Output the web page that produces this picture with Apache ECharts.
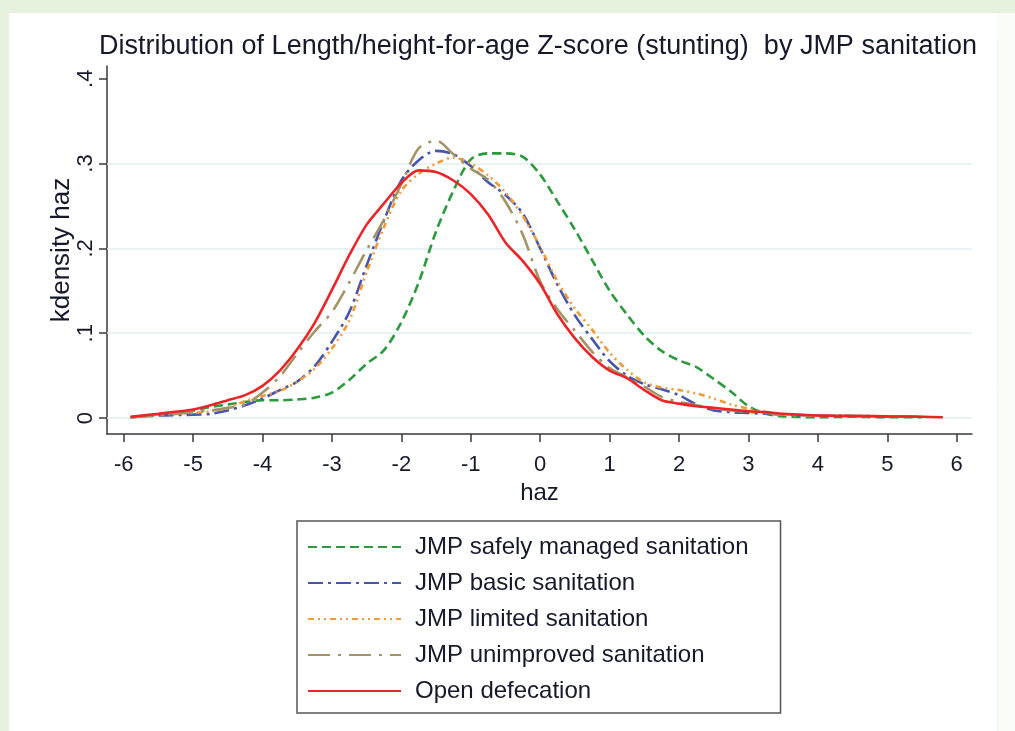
<!DOCTYPE html>
<html>
<head>
<meta charset="utf-8">
<script src="https://cdn.jsdelivr.net/npm/echarts@6/dist/echarts.min.js"></script>
<style>
html,body{margin:0;padding:0;background:#e6f2dd;}
#main{width:1015px;height:731px;}
</style>
</head>
<body>
<div id="main"></div>
<script>
// ---- data ----
var titleText = 'Distribution of Length/height-for-age Z-score (stunting)  by JMP sanitation';
var seriesNames = ['JMP safely managed sanitation','JMP basic sanitation','JMP limited sanitation','JMP unimproved sanitation','Open defecation'];
var xTicks = [-6,-5,-4,-3,-2,-1,0,1,2,3,4,5,6];
var yTicks = [0,0.1,0.2,0.3,0.4];
var xs = [-5.9,-5.5,-5,-4.75,-4.5,-4.25,-4,-3.75,-3.5,-3.25,-3,-2.75,-2.5,-2.25,-2,-1.75,-1.5,-1.25,-1,-0.75,-0.5,-0.25,0,0.25,0.5,0.75,1,1.25,1.5,1.75,2,2.25,2.5,2.75,3,3.25,3.5,4,4.5,5,5.5,5.8];
var safelyManaged = [0.001,0.004,0.009,0.013,0.016,0.019,0.021,0.021,0.022,0.024,0.030,0.045,0.064,0.080,0.113,0.160,0.220,0.268,0.305,0.312,0.312,0.308,0.287,0.255,0.222,0.186,0.150,0.122,0.097,0.079,0.068,0.060,0.046,0.031,0.014,0.005,0.002,0.001,0.0015,0.001,0.001,null];
var basic = [0.001,0.003,0.004,0.005,0.009,0.015,0.023,0.033,0.043,0.061,0.090,0.125,0.180,0.233,0.280,0.304,0.315,0.311,0.297,0.278,0.263,0.241,0.200,0.157,0.121,0.093,0.067,0.050,0.040,0.034,0.027,0.016,0.009,0.007,0.006,0.005,0.004,0.003,0.0025,0.002,0.0015,null];
var limited = [0.001,0.004,0.006,0.008,0.012,0.020,0.026,0.032,0.043,0.058,0.082,0.115,0.172,0.225,0.268,0.288,0.300,0.307,0.300,0.286,0.266,0.238,0.2015,0.161,0.129,0.104,0.077,0.057,0.042,0.036,0.033,0.029,0.023,0.016,0.011,0.007,0.004,0.003,0.0025,0.002,0.0015,null];
var unimproved = [0.001,0.003,0.007,0.009,0.012,0.016,0.030,0.049,0.076,0.102,0.125,0.160,0.198,0.234,0.276,0.318,0.327,0.311,0.294,0.281,0.255,0.216,0.161,0.128,0.103,0.078,0.059,0.048,0.037,0.025,0.019,0.015,0.011,0.009,0.007,0.006,0.004,0.003,0.0025,0.002,0.0015,null];
var openDefecation = [0.0015,0.005,0.010,0.015,0.021,0.027,0.038,0.056,0.081,0.112,0.151,0.192,0.228,0.253,0.277,0.292,0.290,0.280,0.264,0.240,0.207,0.185,0.158,0.122,0.094,0.072,0.056,0.047,0.033,0.021,0.017,0.014,0.012,0.010,0.008,0.007,0.005,0.003,0.0025,0.002,0.0015,0.001];

var seriesValues = [safelyManaged, basic, limited, unimproved, openDefecation];
var colors = ['#2a9a3c','#4655ae','#f09a38','#a39466','#ec2427'];
var dashes = [[9,5],[15,5,3,5],[6,4,2,4,2,4],[22,8,3,8],'solid'];

function pairs(vals){
  var out = [];
  for (var i = 0; i < xs.length; i++) { if (vals[i] != null) out.push([xs[i], vals[i]]); }
  return out;
}
function fmtY(v){
  if (Math.abs(v) < 1e-9) return '0';
  return ('' + Math.round(v*10)/10).replace(/^0/, '');
}

var textColor = '#15192a';
var font = "'Liberation Sans',Arial,sans-serif";

var series = seriesNames.map(function(name, k){
  var s = {
    name: name,
    type: 'line',
    data: pairs(seriesValues[k]),
    smooth: 0.3,
    symbol: 'none',
    lineStyle: {color: colors[k], width: 2.6, type: dashes[k]},
    itemStyle: {color: colors[k]},
    z: 3 + k
  };
  if (k === 0) {
    s.markLine = {
      silent: true, symbol: 'none', label: {show: false}, animation: false,
      lineStyle: {color: '#e2eef2', width: 1.6, type: 'solid'},
      data: [{yAxis: 0}, {yAxis: 0.1}, {yAxis: 0.2}, {yAxis: 0.3}],
      z: 1
    };
  }
  return s;
});

var chart = echarts.init(document.getElementById('main'), null, {renderer: 'canvas'});
chart.setOption({
  backgroundColor: 'transparent',
  animation: false,
  graphic: [
    {type: 'rect', shape: {x: 9, y: 13, width: 988, height: 718}, style: {fill: '#ffffff'}, z: -10, silent: true},
    {type: 'rect', shape: {x: 997, y: 13, width: 18, height: 718}, style: {fill: '#f8fbf6'}, z: -10, silent: true},
    {type: 'line', shape: {x1: 997.5, y1: 40, x2: 997.5, y2: 731}, style: {stroke: '#eef5f8', lineWidth: 1}, z: -9, silent: true}
  ],
  title: {
    text: titleText,
    left: 533, top: 28, textAlign: 'center',
    textStyle: {fontFamily: font, fontSize: 27, fontWeight: 'normal', color: textColor}
  },
  legend: {
    orient: 'vertical',
    left: 297, top: 521,
    padding: [14, 32, 10, 10],
    itemGap: 12,
    itemWidth: 93, itemHeight: 24,
    borderColor: '#555555', borderWidth: 1.5,
    backgroundColor: '#ffffff',
    data: seriesNames,
    itemStyle: {color: 'rgba(0,0,0,0)', borderWidth: 0, opacity: 0},
    textStyle: {fontFamily: font, fontSize: 24, color: textColor, padding: [0, 0, 0, 9]},
    selectedMode: false
  },
  grid: {left: 107, top: 66, right: 43, bottom: 297, containLabel: false},
  xAxis: {
    type: 'value', min: -6.24, max: 6.22,
    name: 'haz', nameLocation: 'middle', nameGap: 46,
    nameTextStyle: {fontFamily: font, fontSize: 24, color: textColor},
    axisLine: {show: true, onZero: false, lineStyle: {color: '#3a3a3a', width: 1.5}},
    axisTick: {show: true, length: 8, customValues: xTicks, lineStyle: {color: '#3a3a3a', width: 1.5}},
    axisLabel: {customValues: xTicks, margin: 20, fontFamily: font, fontSize: 22, color: textColor},
    splitLine: {show: false}
  },
  yAxis: {
    type: 'value', min: -0.0188, max: 0.415,
    name: 'kdensity haz', nameLocation: 'middle', nameGap: 32, nameRotate: 90,
    nameMoveOverlap: false,
    nameTextStyle: {fontFamily: font, fontSize: 26, color: textColor},
    axisLine: {show: true, onZero: false, lineStyle: {color: '#3a3a3a', width: 1.5}},
    axisTick: {show: true, length: 8, customValues: yTicks, lineStyle: {color: '#3a3a3a', width: 1.5}},
    axisLabel: {customValues: yTicks, rotate: 90, margin: 10, fontFamily: font, fontSize: 22, color: textColor, formatter: fmtY},
    splitLine: {show: false}
  },
  series: series
});
</script>
</body>
</html>
